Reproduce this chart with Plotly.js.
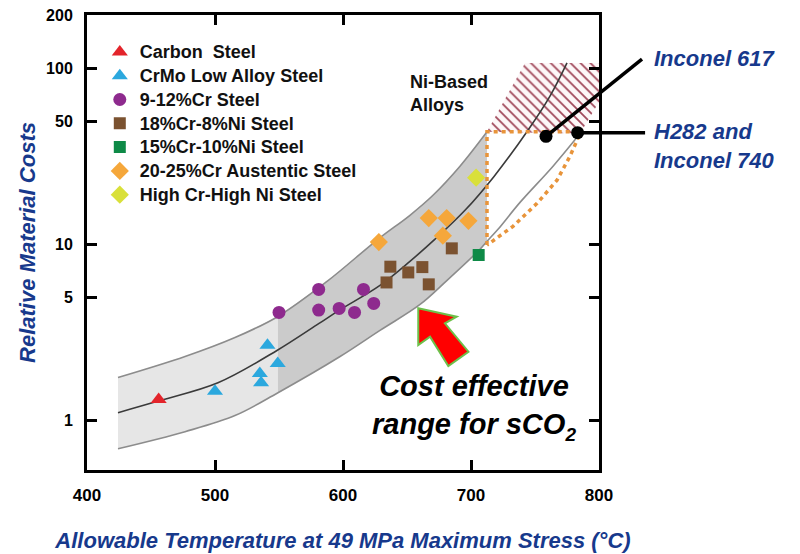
<!DOCTYPE html>
<html><head><meta charset="utf-8">
<script src="https://cdn.plot.ly/plotly-3.0.1.min.js"></script>
<style>html,body{margin:0;padding:0;background:#fff;}#chart{width:800px;height:554px;}</style>
</head><body><div id="chart"></div>
<script>
// ---- data ----
const carbonT = [456], carbonC = [1.32];
const crmoT = [500, 535, 536, 541, 549], crmoC = [1.47, 1.85, 1.64, 2.68, 2.11];
const cr912T = [550, 581, 581, 597, 609, 616, 624], cr912C = [4.11, 5.55, 4.24, 4.33, 4.11, 5.55, 4.62];
const cr18T = [634, 637, 651, 662, 667, 685], cr18C = [6.08, 7.47, 6.93, 7.43, 5.93, 9.49];
const cr15T = [706], cr15C = [8.7];
const cr2025T = [628, 667, 681, 698, 678], cr2025C = [10.3, 14.1, 14.1, 13.6, 11.2];
const highT = [704], highC = [23.9];
const alloyT = [758.6, 783.3], alloyC = [41, 43];

// band / trend curves
const midT = [424.2, 457.0, 502.3, 548.4, 581.3, 596.9, 628.9, 652.3, 671.9, 695.3, 718.0, 744.5, 761.7, 775.0];
const midC = [1.11, 1.30, 1.64, 2.50, 3.56, 4.22, 5.85, 8.01, 10.7, 15.6, 24.3, 44.4, 69.3, 107];
const upT = [424.2, 476.6, 515.6, 549.2, 587.5, 627.3, 652.3, 670.3, 691.4, 712.5, 727.3, 742.2];
const upC = [1.755, 2.31, 2.96, 3.90, 6.16, 10.68, 14.62, 18.98, 27.75, 43.5, 67.5, 107];
const loT = [424.2, 476.6, 515.6, 549.2, 597.7, 628.9, 660.2, 681.3, 707.0, 712.5, 721.1, 738.3, 764.1, 785.2, 800];
const loC = [0.693, 0.866, 1.068, 1.44, 2.31, 3.25, 4.56, 6.25, 9.37, 10.4, 12.17, 17.3, 27.75, 42.5, 64.1];
const dotT = [712.5, 732.8, 751.6, 767.2, 777.3, 783.6];
const dotC = [9.9, 12.66, 17.1, 23.1, 31.6, 40.0];
const splitT = 549.2, niT = 712.5, niC = 43.5, hatchTopC = 107;

const xTicks = [400, 500, 600, 700, 800];
const yTicks = [1, 5, 10, 50, 100, 200];

// ---- helpers ----
const F = 'Liberation Sans, Arial, Helvetica, sans-serif';
const xR = [400, 800], yR = [-0.28, Math.log10(200)];
const BLUE = '#17398c';
function sel(T, C, f) { const x = [], y = []; T.forEach((t, i) => { if (f(t)) { x.push(t); y.push(C[i]); } }); return {x, y}; }
function poly(a, b) { return {x: a.x.concat(b.x.slice().reverse()), y: a.y.concat(b.y.slice().reverse())}; }
function pX(t) { return (t - xR[0]) / (xR[1] - xR[0]); }
function pY(c) { return (Math.log10(c) - yR[0]) / (yR[1] - yR[0]); }

const light = poly(sel(upT, upC, t => t <= splitT), sel(loT, loC, t => t <= splitT));
const dark = poly(sel(upT, upC, t => t >= splitT && t <= niT), sel(loT, loC, t => t >= splitT && t <= niT));
const hUp = sel(upT, upC, t => t >= niT);
const hLo = sel(loT, loC, t => t >= 785);
const hatch = {x: hUp.x.concat([800]).concat(hLo.x.slice().reverse()), y: hUp.y.concat([hatchTopC]).concat(hLo.y.slice().reverse())};
const upLine = sel(upT, upC, t => t <= niT);
const loLine = sel(loT, loC, t => t <= 786);
const dotted = {x: [dotT[0], niT, dotT[dotT.length - 1]].concat(dotT.slice().reverse()),
                y: [dotC[0], niC, niC].concat(dotC.slice().reverse())};

const deco = {mode: 'lines', showlegend: false, hoverinfo: 'skip'};
const traces = [
  Object.assign({x: light.x, y: light.y, fill: 'toself', fillcolor: '#e6e6e6', line: {width: 0}}, deco),
  Object.assign({x: dark.x, y: dark.y, fill: 'toself', fillcolor: '#cbcbcb', line: {width: 0}}, deco),
  Object.assign({x: hatch.x, y: hatch.y, fill: 'toself', fillcolor: 'rgba(255,255,255,0)',
    fillpattern: {shape: '\\', fgcolor: '#a0485a', bgcolor: '#fdf7f8', size: 7, solidity: 0.25}, line: {width: 0}}, deco),
  Object.assign({x: upLine.x, y: upLine.y, line: {color: '#8c8c8c', width: 1.6, shape: 'spline'}}, deco),
  Object.assign({x: loLine.x, y: loLine.y, line: {color: '#8c8c8c', width: 1.6, shape: 'spline'}}, deco),
  Object.assign({x: midT, y: midC, line: {color: '#3a3a3a', width: 1.6, shape: 'spline'}}, deco),
  Object.assign({x: dotted.x, y: dotted.y, line: {color: '#e8943a', width: 3.5, dash: '4px,4px'}}, deco),
];
function pts(name, x, y, sym, size, color) {
  return {x, y, name: '<span style="font-size:18px">' + name + '</span>', mode: 'markers', type: 'scatter',
    marker: {symbol: sym, size, color, line: {width: 0}}, hoverinfo: 'x+y'};
}
traces.push(
  pts('Carbon  Steel', carbonT, carbonC, 'triangle-up', 14, '#e3242b'),
  pts('CrMo Low Alloy Steel', crmoT, crmoC, 'triangle-up', 14, '#2ba8de'),
  pts('9-12%Cr Steel', cr912T, cr912C, 'circle', 13, '#8e2a8e'),
  pts('18%Cr-8%Ni Steel', cr18T, cr18C, 'square', 12, '#7b5230'),
  pts('15%Cr-10%Ni Steel', cr15T, cr15C, 'square', 12, '#0e8a47'),
  pts('20-25%Cr Austentic Steel', cr2025T, cr2025C, 'diamond', 14, '#f5a73b'),
  pts('High Cr-High Ni Steel', highT, highC, 'diamond', 14, '#d9e03a')
);
traces.push({x: alloyT, y: alloyC, mode: 'markers', showlegend: false, cliponaxis: false,
  marker: {size: 13, color: '#000'}, hoverinfo: 'skip'});

const arrow = [[0.647, 0.3554], [0.722, 0.3369], [0.699, 0.3224], [0.745, 0.260], [0.7057, 0.2286], [0.670, 0.293], [0.647, 0.2747]];
const arrowPath = 'M ' + arrow.map(p => p[0] + ' ' + p[1]).join(' L ') + ' Z';

const layout = {
  width: 800, height: 554,
  margin: {l: 87, r: 201, t: 15, b: 84},
  paper_bgcolor: '#fff', plot_bgcolor: '#fff',
  showlegend: true,
  legend: {x: 0.025, y: 0.956, xanchor: 'left', yanchor: 'top', bgcolor: 'rgba(0,0,0,0)',
    font: {family: F, size: 16, color: '#111', weight: 'bold'}, itemwidth: 30, tracegroupgap: 0},
  xaxis: {type: 'linear', range: xR, tickvals: xTicks, ticktext: xTicks.map(String),
    ticks: 'inside', ticklen: 10, tickwidth: 3, tickcolor: '#000',
    showline: true, linewidth: 3, linecolor: '#000', mirror: 'ticks', showgrid: false, zeroline: false,
    ticklabelstandoff: 8,
    tickfont: {family: F, size: 17, color: '#000', weight: 'bold'},
    title: {text: 'Allowable Temperature at 49 MPa Maximum Stress (°C)', standoff: 29,
      font: {family: F, size: 22, color: BLUE, weight: 'bold', style: 'italic'}}},
  yaxis: {type: 'log', range: yR, tickvals: yTicks, ticktext: yTicks.map(String),
    ticks: 'inside', ticklen: 10, tickwidth: 3, tickcolor: '#000',
    showline: true, linewidth: 3, linecolor: '#000', mirror: 'ticks', showgrid: false, zeroline: false,
    ticklabelstandoff: 8,
    tickfont: {family: F, size: 16, color: '#000', weight: 'bold'},
    title: {text: 'Relative Material Costs', standoff: 5,
      font: {family: F, size: 22, color: BLUE, weight: 'bold', style: 'italic'}}},
  shapes: [
    {type: 'path', xref: 'paper', yref: 'paper', path: arrowPath, fillcolor: '#ff0000', line: {color: '#6cc04a', width: 2}},
    {type: 'line', xref: 'paper', yref: 'paper', x0: pX(alloyT[0]), y0: pY(alloyC[0]), x1: 1.084, y1: 0.903, line: {color: '#000', width: 3.5}},
    {type: 'line', xref: 'paper', yref: 'paper', x0: pX(alloyT[1]), y0: pY(alloyC[1]), x1: 1.09, y1: pY(alloyC[1]), line: {color: '#000', width: 3.5}}
  ],
  annotations: [
    {xref: 'paper', yref: 'paper', x: 0.627, y: 0.8275, xanchor: 'left', yanchor: 'middle', align: 'left', showarrow: false,
      text: 'Ni-Based<br>Alloys', font: {family: F, size: 18, color: '#111', weight: 'bold'}},
    {xref: 'paper', yref: 'paper', x: 0.756, y: 0.138, xanchor: 'center', yanchor: 'middle', align: 'center', showarrow: false,
      text: 'Cost effective<br>range for sCO<span style="font-size:19px;baseline-shift:-7px">2</span>',
      font: {family: F, size: 29, color: '#000', weight: 'bold', style: 'italic'}},
    {xref: 'paper', yref: 'paper', x: 1.1035, y: 0.9033, xanchor: 'left', yanchor: 'middle', align: 'left', showarrow: false,
      text: 'Inconel 617', font: {family: F, size: 22, color: BLUE, weight: 'bold', style: 'italic'}},
    {xref: 'paper', yref: 'paper', x: 1.1035, y: 0.712, xanchor: 'left', yanchor: 'middle', align: 'left', showarrow: false,
      text: 'H282 and<br>Inconel 740', font: {family: F, size: 22, color: BLUE, weight: 'bold', style: 'italic'}}
  ]
};
Plotly.newPlot('chart', traces, layout, {displayModeBar: false, staticPlot: true});
</script></body></html>
